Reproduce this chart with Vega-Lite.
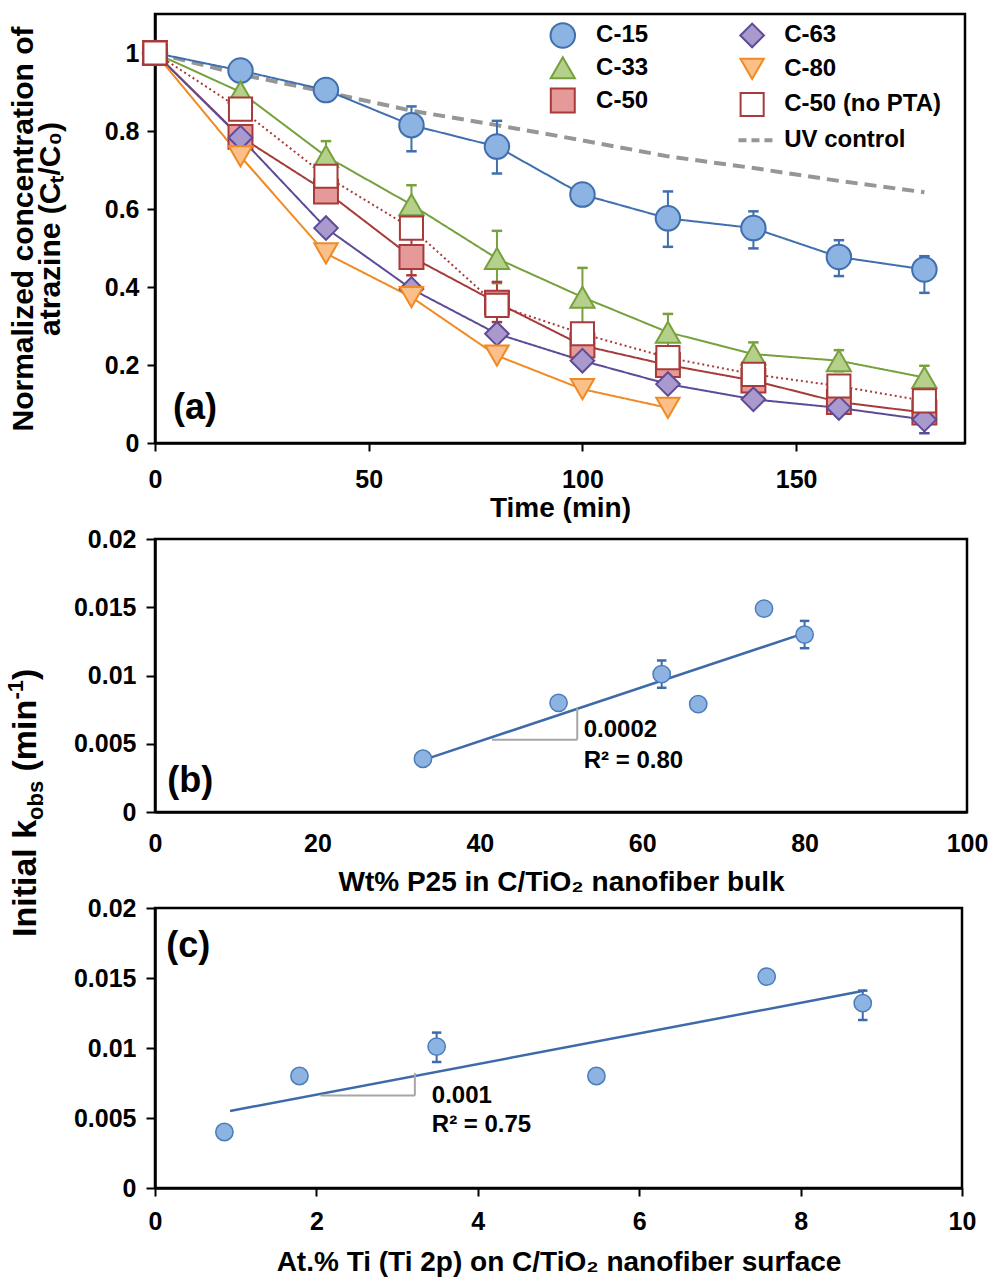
{
  "$schema": "https://vega.github.io/schema/vega-lite/v6.json",
  "background": "white",
  "padding": {"left": 4, "top": 12, "right": 3, "bottom": 4},
  "spacing": 96,
  "bounds": "flush",
  "config": {
    "font": "Liberation Sans",
    "view": {"stroke": "black", "strokeWidth": 2.5},
    "axis": {
      "grid": false,
      "labelFont": "Liberation Sans",
      "labelFontWeight": "bold",
      "labelFontSize": 25,
      "labelColor": "black",
      "titleFont": "Liberation Sans",
      "titleFontWeight": "bold",
      "titleFontSize": 28,
      "titleColor": "black",
      "domainColor": "black",
      "domainWidth": 2.5,
      "tickColor": "black",
      "tickWidth": 2,
      "labelFlush": false,
      "labelOverlap": false
    },
    "text": {"font": "Liberation Sans", "fontWeight": "bold", "color": "black"}
  },
  "datasets": {
    "a": [
      {"series": "UV control", "t": 0, "c": 1}, {"series": "UV control", "t": 20, "c": 0.945}, {"series": "UV control", "t": 40, "c": 0.9}, {"series": "UV control", "t": 60, "c": 0.852}, {"series": "UV control", "t": 80, "c": 0.815}, {"series": "UV control", "t": 100, "c": 0.776}, {"series": "UV control", "t": 120, "c": 0.735}, {"series": "UV control", "t": 140, "c": 0.705}, {"series": "UV control", "t": 160, "c": 0.672}, {"series": "UV control", "t": 180, "c": 0.643},
      {"series": "C-15", "t": 0, "c": 1}, {"series": "C-15", "t": 20, "c": 0.955}, {"series": "C-15", "t": 40, "c": 0.905}, {"series": "C-15", "t": 60, "c": 0.815}, {"series": "C-15", "t": 80, "c": 0.76}, {"series": "C-15", "t": 100, "c": 0.637}, {"series": "C-15", "t": 120, "c": 0.576}, {"series": "C-15", "t": 140, "c": 0.551}, {"series": "C-15", "t": 160, "c": 0.477}, {"series": "C-15", "t": 180, "c": 0.445},
      {"series": "C-33", "t": 0, "c": 1}, {"series": "C-33", "t": 20, "c": 0.9}, {"series": "C-33", "t": 40, "c": 0.735}, {"series": "C-33", "t": 60, "c": 0.611}, {"series": "C-33", "t": 80, "c": 0.473}, {"series": "C-33", "t": 100, "c": 0.374}, {"series": "C-33", "t": 120, "c": 0.284}, {"series": "C-33", "t": 140, "c": 0.228}, {"series": "C-33", "t": 160, "c": 0.211}, {"series": "C-33", "t": 180, "c": 0.168},
      {"series": "C-50", "t": 0, "c": 1}, {"series": "C-50", "t": 20, "c": 0.785}, {"series": "C-50", "t": 40, "c": 0.645}, {"series": "C-50", "t": 60, "c": 0.477}, {"series": "C-50", "t": 80, "c": 0.36}, {"series": "C-50", "t": 100, "c": 0.25}, {"series": "C-50", "t": 120, "c": 0.2}, {"series": "C-50", "t": 140, "c": 0.16}, {"series": "C-50", "t": 160, "c": 0.105}, {"series": "C-50", "t": 180, "c": 0.078},
      {"series": "C-63", "t": 0, "c": 1}, {"series": "C-63", "t": 20, "c": 0.783}, {"series": "C-63", "t": 40, "c": 0.551}, {"series": "C-63", "t": 60, "c": 0.395}, {"series": "C-63", "t": 80, "c": 0.28}, {"series": "C-63", "t": 100, "c": 0.211}, {"series": "C-63", "t": 120, "c": 0.151}, {"series": "C-63", "t": 140, "c": 0.112}, {"series": "C-63", "t": 160, "c": 0.09}, {"series": "C-63", "t": 180, "c": 0.06},
      {"series": "C-80", "t": 0, "c": 1}, {"series": "C-80", "t": 20, "c": 0.735}, {"series": "C-80", "t": 40, "c": 0.486}, {"series": "C-80", "t": 60, "c": 0.374}, {"series": "C-80", "t": 80, "c": 0.224}, {"series": "C-80", "t": 100, "c": 0.138}, {"series": "C-80", "t": 120, "c": 0.09},
      {"series": "C-50 (no PTA)", "t": 0, "c": 1}, {"series": "C-50 (no PTA)", "t": 20, "c": 0.856}, {"series": "C-50 (no PTA)", "t": 40, "c": 0.684}, {"series": "C-50 (no PTA)", "t": 60, "c": 0.551}, {"series": "C-50 (no PTA)", "t": 80, "c": 0.353}, {"series": "C-50 (no PTA)", "t": 100, "c": 0.28}, {"series": "C-50 (no PTA)", "t": 120, "c": 0.219}, {"series": "C-50 (no PTA)", "t": 140, "c": 0.176}, {"series": "C-50 (no PTA)", "t": 160, "c": 0.146}, {"series": "C-50 (no PTA)", "t": 180, "c": 0.108}
    ],
    "aerr": [
      {"series": "C-15", "t": 60, "c": 0.748, "hi": 0.863}, {"series": "C-15", "t": 80, "c": 0.691, "hi": 0.826}, {"series": "C-15", "t": 120, "c": 0.503, "hi": 0.645}, {"series": "C-15", "t": 140, "c": 0.499, "hi": 0.594}, {"series": "C-15", "t": 160, "c": 0.428, "hi": 0.52}, {"series": "C-15", "t": 180, "c": 0.385, "hi": 0.479},
      {"series": "C-33", "t": 40, "c": 0.695, "hi": 0.774}, {"series": "C-33", "t": 60, "c": 0.561, "hi": 0.661}, {"series": "C-33", "t": 80, "c": 0.41, "hi": 0.544}, {"series": "C-33", "t": 100, "c": 0.3, "hi": 0.449}, {"series": "C-33", "t": 120, "c": 0.237, "hi": 0.331}, {"series": "C-33", "t": 140, "c": 0.193, "hi": 0.258}, {"series": "C-33", "t": 160, "c": 0.184, "hi": 0.238}, {"series": "C-33", "t": 180, "c": 0.138, "hi": 0.198},
      {"series": "C-50", "t": 60, "c": 0.43, "hi": 0.525}, {"series": "C-50", "t": 80, "c": 0.31, "hi": 0.413},
      {"series": "C-63", "t": 180, "c": 0.025, "hi": 0.095}
    ],
    "aleg": [
      {"series": "C-15", "t": 95.4, "c": 1.045}, {"series": "C-33", "t": 95.4, "c": 0.962}, {"series": "C-50", "t": 95.4, "c": 0.878},
      {"series": "C-63", "t": 139.7, "c": 1.045}, {"series": "C-80", "t": 139.7, "c": 0.959}, {"series": "C-50 (no PTA)", "t": 139.7, "c": 0.868}
    ],
    "alab": [
      {"label": "C-15", "t": 103.2, "c": 1.045}, {"label": "C-33", "t": 103.2, "c": 0.962}, {"label": "C-50", "t": 103.2, "c": 0.878},
      {"label": "C-63", "t": 147.2, "c": 1.045}, {"label": "C-80", "t": 147.2, "c": 0.959}, {"label": "C-50 (no PTA)", "t": 147.2, "c": 0.868}, {"label": "UV control", "t": 147.2, "c": 0.776}
    ],
    "b": [
      {"x": 33, "y": 0.0039}, {"x": 49.7, "y": 0.008}, {"x": 62.4, "y": 0.0101}, {"x": 66.9, "y": 0.0079}, {"x": 75, "y": 0.0149}, {"x": 80, "y": 0.013}
    ],
    "berr": [
      {"x": 62.4, "y": 0.0091, "hi": 0.0111}, {"x": 80, "y": 0.012, "hi": 0.014}
    ],
    "bfit": [{"x": 33, "y": 0.0038}, {"x": 80, "y": 0.0131}],
    "btri": [
      {"x": 41.5, "x2": 52, "y": 0.0053, "y2": 0.0053},
      {"x": 52, "x2": 52, "y": 0.0053, "y2": 0.0076}
    ],
    "btxt": [
      {"x": 52.8, "y": 0.006, "label": "0.0002"},
      {"x": 52.8, "y": 0.0037, "label": "R² = 0.80"}
    ],
    "c": [
      {"x": 0.86, "y": 0.004}, {"x": 1.79, "y": 0.008}, {"x": 3.49, "y": 0.0101}, {"x": 5.47, "y": 0.008}, {"x": 7.58, "y": 0.0151}, {"x": 8.77, "y": 0.0132}
    ],
    "cerr": [
      {"x": 3.49, "y": 0.009, "hi": 0.0111}, {"x": 8.77, "y": 0.012, "hi": 0.0141}
    ],
    "cfit": [{"x": 0.93, "y": 0.0055}, {"x": 8.8, "y": 0.0141}],
    "ctri": [
      {"x": 2.05, "x2": 3.22, "y": 0.0066, "y2": 0.0066},
      {"x": 3.22, "x2": 3.22, "y": 0.0066, "y2": 0.0082}
    ],
    "ctxt": [
      {"x": 3.43, "y": 0.0066, "label": "0.001"},
      {"x": 3.43, "y": 0.0045, "label": "R² = 0.75"}
    ],
    "ctitle": [
      {"kind": "main", "x": -1.47, "y": 0.01793, "label": "Initial k"},
      {"kind": "sub", "x": -1.47, "y": 0.02629, "label": "obs"},
      {"kind": "main", "x": -1.47, "y": 0.02975, "label": "(min"},
      {"kind": "sup", "x": -1.47, "y": 0.03489, "label": "-1"},
      {"kind": "main", "x": -1.47, "y": 0.03629, "label": ")"}
    ]
  },
  "vconcat": [
    {
      "width": 810,
      "height": 429,
      "encoding": {
        "x": {"field": "t", "type": "quantitative", "scale": {"domain": [0, 189.5], "nice": false, "zero": false},
              "axis": {"title": "Time (min)", "values": [0, 50, 100, 150], "format": "~r", "tickSize": 8, "labelPadding": 16, "titlePadding": 2}},
        "y": {"field": "c", "type": "quantitative", "scale": {"domain": [0, 1.1], "nice": false, "zero": false},
              "axis": {"title": ["Normalized concentration of", "atrazine (Cₜ/C₀)"], "values": [0, 0.2, 0.4, 0.6, 0.8, 1], "format": "~r", "tickSize": 8, "labelPadding": 8, "titlePadding": 39, "titleFontSize": 30, "titleLineHeight": 27}}
      },
      "layer": [
        {
          "data": {"name": "a"},
          "transform": [{"filter": "datum.series == 'UV control'"}],
          "mark": {"type": "line", "stroke": "#969696", "strokeWidth": 4, "strokeDash": [12, 7]},
          "encoding": {}
        },
        {
          "data": {"name": "a"},
          "transform": [{"filter": "datum.series != 'UV control'"}],
          "mark": {"type": "line", "strokeWidth": 2},
          "encoding": {
            "stroke": {"field": "series", "type": "nominal", "legend": null,
              "scale": {"domain": ["C-15", "C-33", "C-50", "C-63", "C-80", "C-50 (no PTA)", "UV control"], "range": ["#3F6FAE", "#76A13C", "#A83A3A", "#5D4B9A", "#F08A24", "#A83A3A", "#969696"]}},
            "strokeDash": {"field": "series", "type": "nominal", "legend": null,
              "scale": {"domain": ["C-15", "C-33", "C-50", "C-63", "C-80", "C-50 (no PTA)", "UV control"], "range": [[1, 0], [1, 0], [1, 0], [1, 0], [1, 0], [2, 3], [12, 7]]}}
          }
        },
        {
          "data": {"name": "aerr"},
          "mark": {"type": "rule", "strokeWidth": 2},
          "encoding": {
            "y2": {"field": "hi"},
            "stroke": {"field": "series", "type": "nominal", "legend": null,
              "scale": {"domain": ["C-15", "C-33", "C-50", "C-63", "C-80", "C-50 (no PTA)", "UV control"], "range": ["#3F6FAE", "#76A13C", "#A83A3A", "#5D4B9A", "#F08A24", "#A83A3A", "#969696"]}}
          }
        },
        {
          "data": {"name": "aerr"},
          "mark": {"type": "point", "shape": "M-1,0L1,0", "size": 110, "strokeWidth": 2.5, "filled": false, "opacity": 1},
          "encoding": {
            "stroke": {"field": "series", "type": "nominal", "legend": null,
              "scale": {"domain": ["C-15", "C-33", "C-50", "C-63", "C-80", "C-50 (no PTA)", "UV control"], "range": ["#3F6FAE", "#76A13C", "#A83A3A", "#5D4B9A", "#F08A24", "#A83A3A", "#969696"]}}
          }
        },
        {
          "data": {"name": "aerr"},
          "mark": {"type": "point", "shape": "M-1,0L1,0", "size": 110, "strokeWidth": 2.5, "filled": false, "opacity": 1},
          "encoding": {
            "y": {"field": "hi", "type": "quantitative", "scale": {"domain": [0, 1.1], "nice": false, "zero": false}},
            "stroke": {"field": "series", "type": "nominal", "legend": null,
              "scale": {"domain": ["C-15", "C-33", "C-50", "C-63", "C-80", "C-50 (no PTA)", "UV control"], "range": ["#3F6FAE", "#76A13C", "#A83A3A", "#5D4B9A", "#F08A24", "#A83A3A", "#969696"]}}
          }
        },
        {
          "data": {"name": "a"},
          "transform": [{"filter": "datum.series != 'UV control'"}],
          "mark": {"type": "point", "filled": true, "opacity": 1, "strokeWidth": 2},
          "encoding": {
            "shape": {"field": "series", "type": "nominal", "legend": null,
              "scale": {"domain": ["C-15", "C-33", "C-50", "C-63", "C-80", "C-50 (no PTA)", "UV control"], "range": ["circle", "triangle-up", "square", "diamond", "triangle-down", "square", "circle"]}},
            "fill": {"field": "series", "type": "nominal", "legend": null,
              "scale": {"domain": ["C-15", "C-33", "C-50", "C-63", "C-80", "C-50 (no PTA)", "UV control"], "range": ["#8DB3E2", "#B5D08A", "#E59A99", "#A999CC", "#FBBF8A", "#FFFFFF", "#969696"]}},
            "stroke": {"field": "series", "type": "nominal", "legend": null,
              "scale": {"domain": ["C-15", "C-33", "C-50", "C-63", "C-80", "C-50 (no PTA)", "UV control"], "range": ["#3F6FAE", "#76A13C", "#A83A3A", "#5D4B9A", "#F08A24", "#A83A3A", "#969696"]}},
            "size": {"field": "series", "type": "nominal", "legend": null,
              "scale": {"domain": ["C-15", "C-33", "C-50", "C-63", "C-80", "C-50 (no PTA)", "UV control"], "range": [600, 520, 460, 640, 520, 460, 100]}}
          }
        },
        {
          "data": {"name": "aleg"},
          "mark": {"type": "point", "filled": true, "opacity": 1, "strokeWidth": 2},
          "encoding": {
            "shape": {"field": "series", "type": "nominal", "legend": null,
              "scale": {"domain": ["C-15", "C-33", "C-50", "C-63", "C-80", "C-50 (no PTA)", "UV control"], "range": ["circle", "triangle-up", "square", "diamond", "triangle-down", "square", "circle"]}},
            "fill": {"field": "series", "type": "nominal", "legend": null,
              "scale": {"domain": ["C-15", "C-33", "C-50", "C-63", "C-80", "C-50 (no PTA)", "UV control"], "range": ["#8DB3E2", "#B5D08A", "#E59A99", "#A999CC", "#FBBF8A", "#FFFFFF", "#969696"]}},
            "stroke": {"field": "series", "type": "nominal", "legend": null,
              "scale": {"domain": ["C-15", "C-33", "C-50", "C-63", "C-80", "C-50 (no PTA)", "UV control"], "range": ["#3F6FAE", "#76A13C", "#A83A3A", "#5D4B9A", "#F08A24", "#A83A3A", "#969696"]}},
            "size": {"field": "series", "type": "nominal", "legend": null,
              "scale": {"domain": ["C-15", "C-33", "C-50", "C-63", "C-80", "C-50 (no PTA)", "UV control"], "range": [600, 520, 460, 640, 520, 460, 100]}}
          }
        },
        {
          "data": {"values": [{"t": 136.5, "t2": 145.5, "c": 0.776}]},
          "mark": {"type": "rule", "stroke": "#969696", "strokeWidth": 4, "strokeDash": [8, 5]},
          "encoding": {"x2": {"field": "t2"}}
        },
        {
          "data": {"name": "alab"},
          "mark": {"type": "text", "align": "left", "baseline": "middle", "fontSize": 24},
          "encoding": {"text": {"field": "label"}}
        },
        {
          "data": {"values": [{"t": 4.2, "c": 0.09, "label": "(a)"}]},
          "mark": {"type": "text", "align": "left", "baseline": "middle", "fontSize": 36},
          "encoding": {"text": {"field": "label"}}
        }
      ]
    },
    {
      "width": 812,
      "height": 273,
      "encoding": {
        "x": {"field": "x", "type": "quantitative", "scale": {"domain": [0, 100], "nice": false, "zero": false},
              "axis": {"title": "Wt% P25 in C/TiO₂ nanofiber bulk", "values": [0, 20, 40, 60, 80, 100], "format": "~r", "ticks": false, "labelPadding": 19, "titlePadding": 12}},
        "y": {"field": "y", "type": "quantitative", "scale": {"domain": [0, 0.02], "nice": false, "zero": false},
              "axis": {"title": null, "values": [0, 0.005, 0.01, 0.015, 0.02], "format": "~r", "tickSize": 9, "labelPadding": 10}}
      },
      "layer": [
        {"data": {"name": "bfit"}, "mark": {"type": "line", "stroke": "#3E6AAA", "strokeWidth": 2.5}, "encoding": {}},
        {"data": {"name": "btri"}, "mark": {"type": "rule", "stroke": "#A6A6A6", "strokeWidth": 2}, "encoding": {"x2": {"field": "x2"}, "y2": {"field": "y2"}}},
        {"data": {"name": "berr"}, "mark": {"type": "rule", "stroke": "#3E6AAA", "strokeWidth": 2}, "encoding": {"y2": {"field": "hi"}}},
        {"data": {"name": "berr"}, "mark": {"type": "point", "shape": "M-1,0L1,0", "size": 90, "strokeWidth": 2.5, "filled": false, "stroke": "#3E6AAA", "opacity": 1}, "encoding": {}},
        {"data": {"name": "berr"}, "mark": {"type": "point", "shape": "M-1,0L1,0", "size": 90, "strokeWidth": 2.5, "filled": false, "stroke": "#3E6AAA", "opacity": 1},
         "encoding": {"y": {"field": "hi", "type": "quantitative", "scale": {"domain": [0, 0.02], "nice": false, "zero": false}}}},
        {"data": {"name": "b"}, "mark": {"type": "point", "shape": "circle", "filled": true, "fill": "#8DB3E2", "stroke": "#4A7DBA", "strokeWidth": 1.5, "size": 300, "opacity": 1}, "encoding": {}},
        {"data": {"name": "btxt"}, "mark": {"type": "text", "align": "left", "baseline": "middle", "fontSize": 24}, "encoding": {"text": {"field": "label"}}},
        {"data": {"values": [{"x": 1.5, "y": 0.0023, "label": "(b)"}]}, "mark": {"type": "text", "align": "left", "baseline": "middle", "fontSize": 36}, "encoding": {"text": {"field": "label"}}}
      ]
    },
    {
      "width": 807,
      "height": 280,
      "encoding": {
        "x": {"field": "x", "type": "quantitative", "scale": {"domain": [0, 10], "nice": false, "zero": false},
              "axis": {"title": "At.% Ti (Ti 2p) on C/TiO₂ nanofiber surface", "values": [0, 2, 4, 6, 8, 10], "format": "~r", "tickSize": 8, "labelPadding": 13, "titlePadding": 14}},
        "y": {"field": "y", "type": "quantitative", "scale": {"domain": [0, 0.02], "nice": false, "zero": false},
              "axis": {"title": null, "values": [0, 0.005, 0.01, 0.015, 0.02], "format": "~r", "tickSize": 9, "labelPadding": 10}}
      },
      "layer": [
        {"data": {"name": "cfit"}, "mark": {"type": "line", "stroke": "#3E6AAA", "strokeWidth": 2.5}, "encoding": {}},
        {"data": {"name": "ctri"}, "mark": {"type": "rule", "stroke": "#A6A6A6", "strokeWidth": 2}, "encoding": {"x2": {"field": "x2"}, "y2": {"field": "y2"}}},
        {"data": {"name": "cerr"}, "mark": {"type": "rule", "stroke": "#3E6AAA", "strokeWidth": 2}, "encoding": {"y2": {"field": "hi"}}},
        {"data": {"name": "cerr"}, "mark": {"type": "point", "shape": "M-1,0L1,0", "size": 90, "strokeWidth": 2.5, "filled": false, "stroke": "#3E6AAA", "opacity": 1}, "encoding": {}},
        {"data": {"name": "cerr"}, "mark": {"type": "point", "shape": "M-1,0L1,0", "size": 90, "strokeWidth": 2.5, "filled": false, "stroke": "#3E6AAA", "opacity": 1},
         "encoding": {"y": {"field": "hi", "type": "quantitative", "scale": {"domain": [0, 0.02], "nice": false, "zero": false}}}},
        {"data": {"name": "c"}, "mark": {"type": "point", "shape": "circle", "filled": true, "fill": "#8DB3E2", "stroke": "#4A7DBA", "strokeWidth": 1.5, "size": 300, "opacity": 1}, "encoding": {}},
        {"data": {"name": "ctxt"}, "mark": {"type": "text", "align": "left", "baseline": "middle", "fontSize": 24}, "encoding": {"text": {"field": "label"}}},
        {"data": {"values": [{"x": 0.14, "y": 0.0173, "label": "(c)"}]}, "mark": {"type": "text", "align": "left", "baseline": "middle", "fontSize": 36}, "encoding": {"text": {"field": "label"}}},
        {"data": {"name": "ctitle"}, "transform": [{"filter": "datum.kind == 'main'"}], "mark": {"type": "text", "align": "left", "baseline": "alphabetic", "angle": 270, "fontSize": 34}, "encoding": {"text": {"field": "label"}}},
        {"data": {"name": "ctitle"}, "transform": [{"filter": "datum.kind == 'sub'"}], "mark": {"type": "text", "align": "left", "baseline": "alphabetic", "angle": 270, "fontSize": 22, "dy": 7}, "encoding": {"text": {"field": "label"}}},
        {"data": {"name": "ctitle"}, "transform": [{"filter": "datum.kind == 'sup'"}], "mark": {"type": "text", "align": "left", "baseline": "alphabetic", "angle": 270, "fontSize": 22, "dy": -13}, "encoding": {"text": {"field": "label"}}}
      ]
    }
  ]
}
